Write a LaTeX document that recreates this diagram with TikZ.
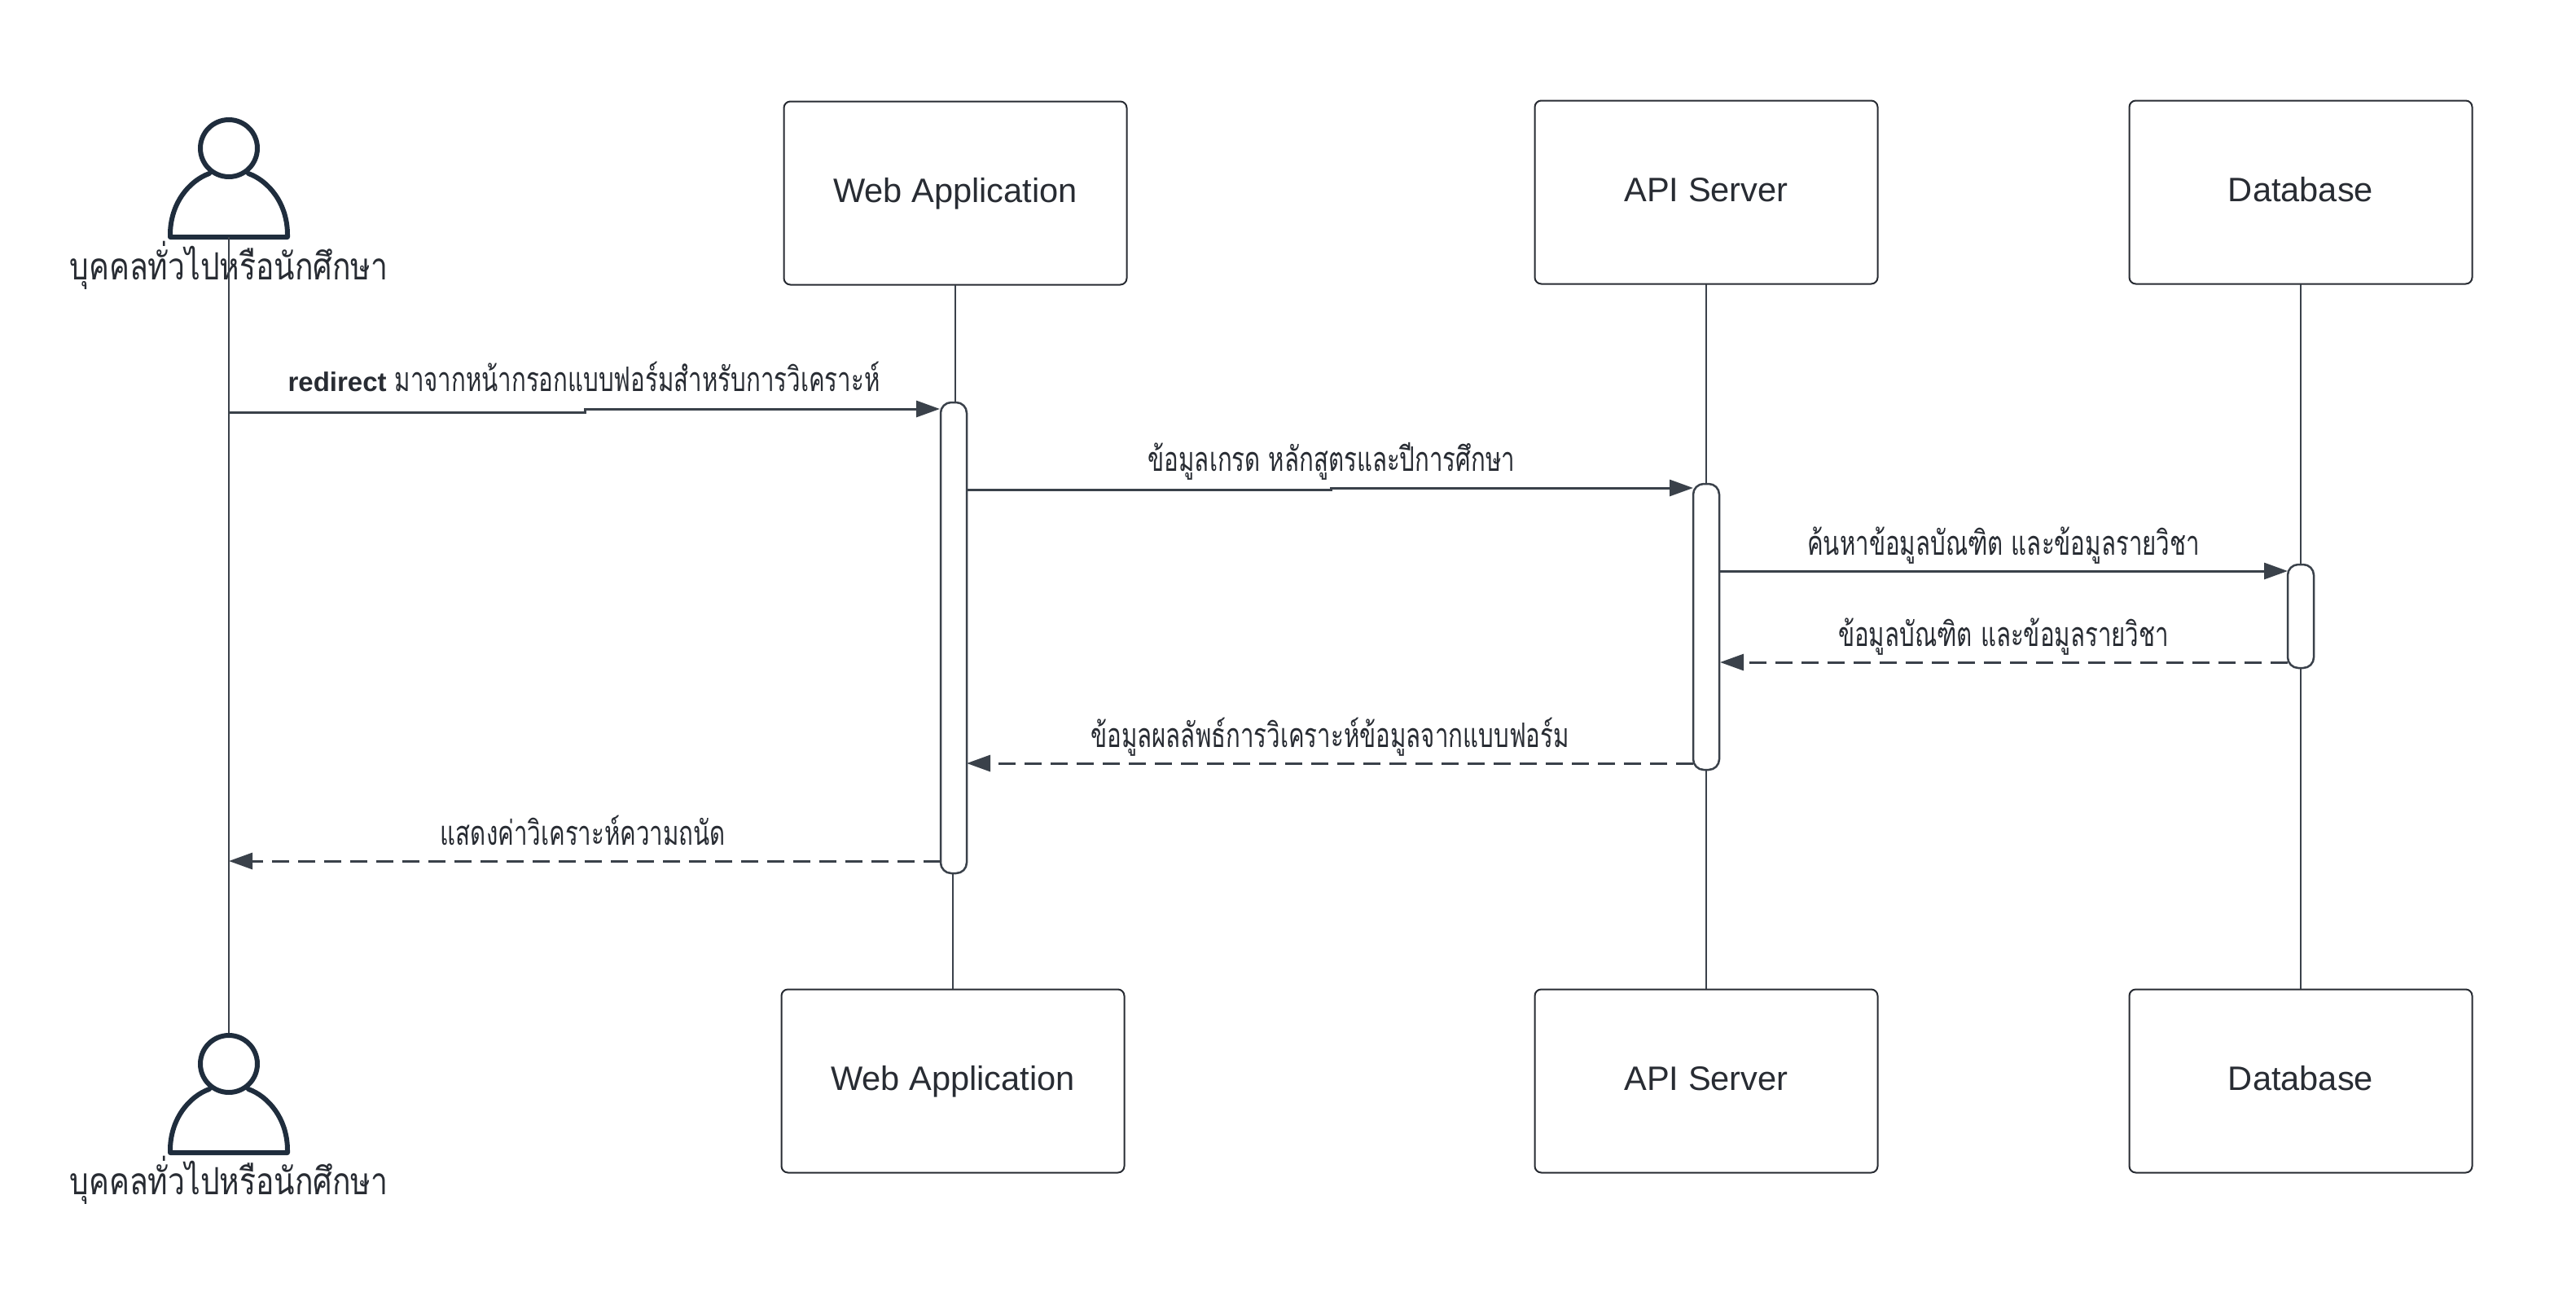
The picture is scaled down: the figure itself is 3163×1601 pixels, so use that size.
\documentclass[tikz,border=0pt]{standalone}
\usepackage{fontspec}
\setmainfont{Liberation Sans}
\newfontfamily\thmsg[Script=Thai,FakeStretch=0.71]{Loma}
\newfontfamily\thact[Script=Thai,FakeStretch=0.81]{Loma}
\usetikzlibrary{arrows.meta}
\definecolor{ln}{HTML}{3A414A}
\definecolor{ink}{HTML}{282C33}
\definecolor{actor}{HTML}{1F2D3D}
\tikzset{
  box/.style={draw=ink,line width=2pt,rounded corners=8pt,fill=white,text=ink,minimum width=421pt,minimum height=225pt,inner sep=0pt,text height=30pt,text depth=8pt,font=\fontsize{41.6}{41.6}\selectfont},
  lifeline/.style={draw=ln,line width=2.5pt},
  activ/.style={draw=ln,line width=2.5pt,rounded corners=13pt,fill=white,minimum width=32pt,inner sep=0pt},
  msg/.style={draw=ln,line width=3pt,-{Triangle[length=29pt,width=20pt,fill=ln]}},
  reply/.style={msg,dash pattern=on 21pt off 11pt},
  msgtext/.style={anchor=base,text=ink,inner sep=0pt,font=\fontsize{41.5}{41.5}\selectfont\thmsg},
  acttext/.style={anchor=base,text=ink,inner sep=0pt,font=\fontsize{46}{46}\selectfont\thact},
  head/.style={circle,draw=actor,line width=6pt,fill=white,minimum size=70pt,inner sep=0pt},
  actorline/.style={draw=actor,line width=6pt,line join=round,line cap=round,fill=white},
}
\begin{document}
\begin{tikzpicture}[x=1pt,y=-1pt]
\useasboundingbox (0,0) rectangle (3163,1601);
\fill[white] (0,0) rectangle (3163,1601);

% actor labels
\node[acttext] (u1t) at (281,343) {บุคคลทั่วไปหรือนักศึกษา};
\node[acttext] (u2t) at (281,1466) {บุคคลทั่วไปหรือนักศึกษา};

% boxes
\node[box] (w1) at (1173,237) {Web Application};
\node[box] (a1) at (2095,236) {API Server};
\node[box] (d1) at (2825,236) {Database};
\node[box] (w2) at (1170,1327) {Web Application};
\node[box] (a2) at (2095,1327) {API Server};
\node[box] (d2) at (2825,1327) {Database};

% actors
\coordinate (u1b) at (281,291);
\coordinate (u2b) at (281,1415);
\draw[actorline] (257,213) .. controls (232,222) and (209,250) .. (209,288) -- (209,291) -- (353,291) -- (353,288) .. controls (353,250) and (330,222) .. (305,213);
\draw[actorline] (257,1337) .. controls (232,1346) and (209,1374) .. (209,1412) -- (209,1415) -- (353,1415) -- (353,1412) .. controls (353,1374) and (330,1346) .. (305,1337);
\node[head] (u1h) at (281,182) {};
\node[head] (u2h) at (281,1306) {};

% lifelines
\draw[lifeline] (u1b) -- (u2h.north);
\coordinate (wt) at (1173,350);
\coordinate (wa) at (1173,494);
\coordinate (wb) at (1170,1072);
\coordinate (at) at (2095,349);
\coordinate (aa) at (2095,594);
\coordinate (ab) at (2095,945);
\coordinate (dt) at (2825,349);
\coordinate (da) at (2825,693);
\coordinate (db) at (2825,821);
\draw[lifeline] (wt) -- (wa);
\draw[lifeline] (wb) -- (w2.north);
\draw[lifeline] (at) -- (aa);
\draw[lifeline] (ab) -- (a2.north);
\draw[lifeline] (dt) -- (da);
\draw[lifeline] (db) -- (d2.north);

% activations
\node[activ,minimum height=578pt] (wx) at (1171,783) {};
\node[activ,minimum height=351pt] (ax) at (2095,769.5) {};
\node[activ,minimum height=127pt] (dx) at (2825,756.5) {};

% message end points
\coordinate (m1a) at (280,506);
\coordinate (m1b) at (718,506);
\coordinate (m1c) at (718,502);
\coordinate (m1d) at (1154,502);
\coordinate (m2a) at (1188,601);
\coordinate (m2b) at (1634,601);
\coordinate (m2c) at (1634,599);
\coordinate (m2d) at (2079,599);
\coordinate (m3a) at (2112,701);
\coordinate (m3d) at (2809,701);
\coordinate (m4a) at (2809,813);
\coordinate (m4d) at (2112,813);
\coordinate (m5a) at (2079,937);
\coordinate (m5d) at (1187,937);
\coordinate (m6a) at (1155,1057);
\coordinate (m6d) at (281,1057);

\draw[msg] (m1a) -- (m1b) -- (m1c) -- (m1d);
\draw[msg] (m2a) -- (m2b) -- (m2c) -- (m2d);
\draw[msg] (m3a) -- (m3d);
\draw[reply] (m4a) -- (m4d);
\draw[reply] (m5a) -- (m5d);
\draw[reply] (m6a) -- (m6d);

% message labels
\node[msgtext] (t1) at (717,480) {{\rmfamily\fontsize{33}{33}\selectfont\bfseries redirect} มาจากหน้ากรอกแบบฟอร์มสำหรับการวิเคราะห์};
\node[msgtext] (t2) at (1635,578) {ข้อมูลเกรด หลักสูตรและปีการศึกษา};
\node[msgtext] (t3) at (2460,681) {ค้นหาข้อมูลบัณฑิต และข้อมูลรายวิชา};
\node[msgtext] (t4) at (2460,793) {ข้อมูลบัณฑิต และข้อมูลรายวิชา};
\node[msgtext] (t5) at (1633,917) {ข้อมูลผลลัพธ์การวิเคราะห์ข้อมูลจากแบบฟอร์ม};
\node[msgtext] (t6) at (716,1037) {แสดงค่าวิเคราะห์ความถนัด};
\end{tikzpicture}
\end{document}
